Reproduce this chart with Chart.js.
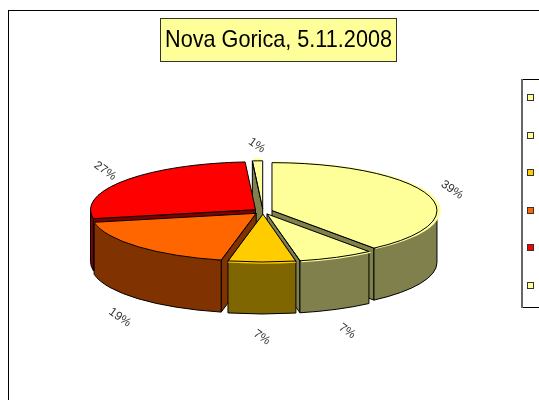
<!DOCTYPE html>
<html><head><meta charset="utf-8">
<style>html,body{margin:0;padding:0;background:#fff;overflow:hidden}canvas{display:block}</style>
<script src="https://cdn.jsdelivr.net/npm/chart.js@4"></script>
</head><body>
<canvas id="c" width="539" height="400"></canvas>
<script>
const chartTitle = 'Nova Gorica, 5.11.2008';
const categories = ['1', '2', '3', '4', '5', '6'];
const shares = [39.4, 7.4, 6.6, 18.6, 27, 1];
const topColors = ['#FFFF99', '#FFFF99', '#FFCC00', '#FF6600', '#FF0000', '#FFFF99'];
const wallColors = ['#80804D', '#80804D', '#806600', '#803300', '#800000', '#80804D'];

const K = 0.29, DEPTH = 52, FONT = '"Liberation Sans", Arial, sans-serif';

function sliceGeom(el) {
  const p = el.getProps(['x', 'y', 'startAngle', 'endAngle', 'outerRadius'], true);
  const h = (p.startAngle + p.endAngle) / 2, off = (el.options.offset || 0) / 4;
  return {a0: p.startAngle, a1: p.endAngle, r: p.outerRadius, h,
    cx: p.x + Math.cos(h) * off, cy: p.y + Math.sin(h) * off * K};
}
function pt(g, t) { return [g.cx + Math.cos(t) * g.r, g.cy + Math.sin(t) * g.r * K]; }

function radialWall(ctx, g, t) {
  const e = pt(g, t);
  ctx.beginPath();
  ctx.moveTo(g.cx, g.cy); ctx.lineTo(e[0], e[1]);
  ctx.lineTo(e[0], e[1] + DEPTH); ctx.lineTo(g.cx, g.cy + DEPTH);
  ctx.closePath(); ctx.fill(); ctx.stroke();
}
function outerWall(ctx, g, s, e) {
  if (e <= s) return;
  ctx.beginPath();
  ctx.ellipse(g.cx, g.cy, g.r, g.r * K, 0, s, e);
  ctx.ellipse(g.cx, g.cy + DEPTH, g.r, g.r * K, 0, e, s, true);
  ctx.closePath(); ctx.fill(); ctx.stroke();
}

const pie3d = {
  id: 'pie3d',
  afterLayout(chart) {
    const t = chart.titleBlock;
    t.left = 165; t.right = 392; t.top = 20; t.bottom = 63;
    t.width = 227; t.height = 43;
  },
  beforeDraw(chart) {
    const ctx = chart.ctx;
    ctx.save();
    ctx.fillStyle = '#fff'; ctx.fillRect(0, 0, 539, 400);
    ctx.strokeStyle = '#000'; ctx.lineWidth = 1;
    ctx.strokeRect(8.5, 10.5, 600, 500);
    ctx.fillStyle = '#FFFF99'; ctx.strokeStyle = '#333';
    ctx.fillRect(160, 18, 236, 43); ctx.strokeRect(160.5, 18.5, 236, 43);
    // legend frame and keys
    ctx.strokeStyle = '#000';
    ctx.beginPath();
    ctx.moveTo(523, 79.5); ctx.lineTo(539, 79.5);
    ctx.moveTo(523, 307.5); ctx.lineTo(539, 307.5);
    ctx.stroke();
    ctx.strokeStyle = '#666'; ctx.lineWidth = 2;
    ctx.beginPath(); ctx.moveTo(522, 79); ctx.lineTo(522, 308); ctx.stroke();
    ctx.lineWidth = 1; ctx.strokeStyle = '#333';
    categories.forEach((c, i) => {
      const y = Math.round(98 + i * 37.6);
      ctx.fillStyle = topColors[i];
      ctx.fillRect(527, y - 4, 7, 7); ctx.strokeRect(527.5, y - 3.5, 6, 6);
    });
    ctx.restore();
  },
  beforeDatasetDraw(chart) {
    const ctx = chart.ctx, arcs = chart.getDatasetMeta(0).data;
    ctx.save();
    ctx.strokeStyle = '#000'; ctx.lineWidth = 1; ctx.lineJoin = 'round';
    arcs.map((el, i) => ({g: sliceGeom(el), i}))
      .sort((a, b) => Math.sin(a.g.h) - Math.sin(b.g.h))
      .forEach(({g, i}) => {
        ctx.fillStyle = wallColors[i];
        if (Math.cos(g.a0) < 0) radialWall(ctx, g, g.a0);
        if (Math.cos(g.a1) > 0) radialWall(ctx, g, g.a1);
        outerWall(ctx, g, Math.max(g.a0, 0), Math.min(g.a1, Math.PI));
      });
    ctx.restore();
    const a = arcs[0];
    ctx.save();
    ctx.translate(a.x, a.y); ctx.scale(1, K); ctx.translate(-a.x, -a.y);
  },
  afterDatasetDraw(chart) {
    const ctx = chart.ctx, arcs = chart.getDatasetMeta(0).data;
    ctx.restore();
    ctx.save();
    ctx.strokeStyle = '#000'; ctx.lineWidth = 1; ctx.lineJoin = 'round';
    arcs.forEach(el => {
      const g = sliceGeom(el);
      ctx.beginPath();
      ctx.moveTo(g.cx, g.cy);
      ctx.ellipse(g.cx, g.cy, g.r, g.r * K, 0, g.a0, g.a1);
      ctx.closePath(); ctx.stroke();
    });
    ctx.fillStyle = '#333'; ctx.font = '12px ' + FONT;
    ctx.textAlign = 'center'; ctx.textBaseline = 'middle';
    arcs.forEach((el, i) => {
      const h = (el.startAngle + el.endAngle) / 2;
      const lower = Math.sin(h) > 0;
      const lx = el.x + Math.cos(h) * 200;
      const ly = el.y + Math.sin(h) * 66 + (lower ? 60 : 0);
      ctx.save();
      ctx.translate(lx, ly); ctx.rotate(35 * Math.PI / 180);
      ctx.fillText(Math.round(shares[i]) + '%', 0, 0);
      ctx.restore();
    });
    ctx.restore();
  }
};

new Chart(document.getElementById('c'), {
  type: 'pie',
  data: {
    labels: categories,
    datasets: [{
      data: shares,
      backgroundColor: topColors,
      borderWidth: 0,
      offset: 38,
      radius: 165
    }]
  },
  options: {
    responsive: false,
    animation: false,
    events: [],
    layout: {padding: {left: 82, right: 95, top: 4, bottom: 22}},
    plugins: {
      legend: {display: false},
      tooltip: {enabled: false},
      title: {
        display: true, text: chartTitle, color: '#000',
        font: {family: FONT, size: 24, weight: 'normal'},
        padding: {top: 6, bottom: 6}
      }
    }
  },
  plugins: [pie3d]
});
</script>
</body></html>
